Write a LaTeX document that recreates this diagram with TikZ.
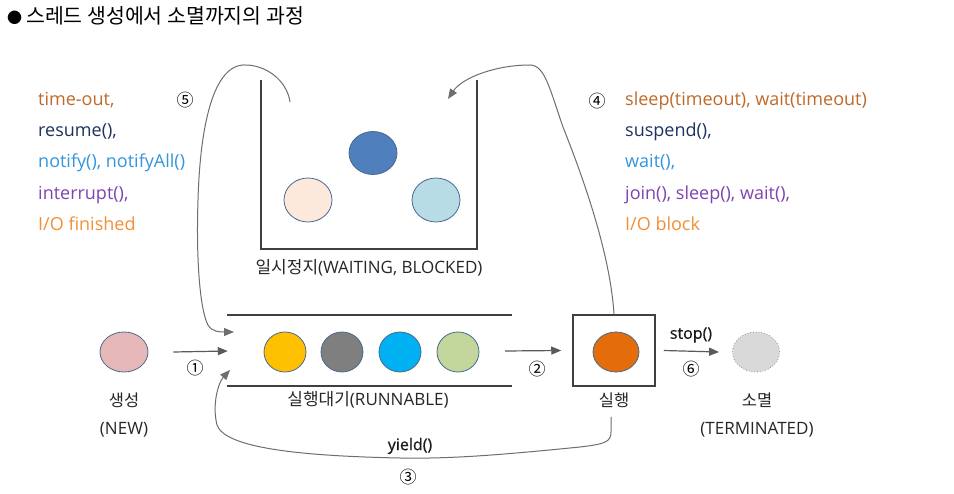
\documentclass[tikz,border=0pt]{standalone}
\usepackage{fontspec}
\setmainfont{Open Sans}
\newfontfamily\kr{Noto Sans CJK KR}
\newfontfamily\semib[FakeBold=0.6]{Open Sans}
\usetikzlibrary{arrows.meta,shapes.geometric}
\definecolor{cBrown}{HTML}{BF6A2A}
\definecolor{cNavy}{HTML}{1F3260}
\definecolor{cBlue}{HTML}{3396DC}
\definecolor{cPurple}{HTML}{8044AE}
\definecolor{cOrange}{HTML}{F28F38}
\definecolor{lineGray}{HTML}{404040}
\definecolor{arrGray}{HTML}{5A5A5A}
\definecolor{curveGray}{HTML}{6E6E6E}
\definecolor{ballEdge}{HTML}{4A6890}
\definecolor{darkBlue}{HTML}{4F7FBC}
\definecolor{peach}{HTML}{FCE9DC}
\definecolor{lblue}{HTML}{B7DCE6}
\definecolor{qYellow}{HTML}{FFC000}
\definecolor{qGray}{HTML}{7F7F7F}
\definecolor{qBlue}{HTML}{00B0F0}
\definecolor{qGreen}{HTML}{C3D69B}
\definecolor{newPink}{HTML}{E6B9B8}
\definecolor{runOrange}{HTML}{E46C0A}
\definecolor{termGray}{HTML}{D9D9D9}
\tikzset{
  lbl/.style={inner sep=0pt, font=\fontsize{17}{20}\selectfont, text=black!85},
  krlbl/.style={inner sep=0pt, font=\kr\fontsize{16.5}{18}\selectfont, text=black!85},
  num/.style={inner sep=0pt, font=\kr\fontsize{17}{18}\selectfont, text=black},
  codeline/.style={inner sep=0pt, anchor=base west, font=\fontsize{18}{20}\selectfont},
  ball/.style={ellipse, draw=ballEdge, line width=0.8pt, inner sep=0pt},
  arr/.style={draw=arrGray, line width=1.2pt, -{Triangle[length=10pt,width=8pt]}},
  curv/.style={draw=curveGray, line width=1pt, -{Triangle[length=10pt,width=8pt]}},
  wall/.style={draw=lineGray, line width=1.5pt},
  methlbl/.style={inner sep=0pt, font=\semib\fontsize{16}{18}\selectfont, text=black!90},
}
\begin{document}
\begin{tikzpicture}[x=1pt,y=-1pt]
\useasboundingbox[fill=white] (0,0) rectangle (954,494);

% title
\node[inner sep=0pt, anchor=base west, font=\kr\fontsize{20.5}{22}\selectfont] (title) at (7,24) {{\fontsize{15}{16}\selectfont ●}\hspace{4pt}스레드 생성에서 소멸까지의 과정};

% left text block
\node[codeline, text=cBrown]  (l1) at (38,106) {time-out,};
\node[codeline, text=cNavy]   (l2) at (38,137) {resume(),};
\node[codeline, text=cBlue]   (l3) at (38,168) {notify(), notifyAll()};
\node[codeline, text=cPurple] (l4) at (38,200) {interrupt(),};
\node[codeline, text=cOrange] (l5) at (38,231) {I/O finished};
\node[num] (n5) at (185,100) {⑤};

% right text block
\node[num] (n4) at (597,101) {④};
\node[codeline, text=cBrown]  (r1) at (625,106) {sleep(timeout), wait(timeout)};
\node[codeline, text=cNavy]   (r2) at (625,137) {suspend(),};
\node[codeline, text=cBlue]   (r3) at (625,168) {wait(),};
\node[codeline, text=cPurple] (r4) at (625,200) {join(), sleep(), wait(),};
\node[codeline, text=cOrange] (r5) at (625,231) {I/O block};

% waiting box
\node[minimum width=216pt, minimum height=169pt, inner sep=0pt] (wait) at (369,164.5) {};
\draw[wall] (wait.north west) -- (wait.south west) -- (wait.south east) -- (wait.north east);
\node[ball, fill=darkBlue, minimum width=48pt, minimum height=43pt] (w1) at (373,153) {};
\node[ball, fill=peach, minimum width=48pt, minimum height=44pt] (w2) at (308,200) {};
\node[ball, fill=lblue, minimum width=48pt, minimum height=44pt] (w3) at (436,200) {};
\node[lbl] (waitlbl) at (369,268) {{\kr 일시정지}(WAITING, BLOCKED)};

% runnable queue
\node[minimum width=285pt, minimum height=71pt, inner sep=0pt] (runq) at (369.5,350.5) {};
\draw[wall] (runq.north west) -- (runq.north east);
\draw[wall] (runq.south west) -- (runq.south east);
\node[ball, fill=qYellow, minimum width=42pt, minimum height=40pt] (q1) at (285,352) {};
\node[ball, fill=qGray, minimum width=42pt, minimum height=40pt] (q2) at (342,352) {};
\node[ball, fill=qBlue, minimum width=42pt, minimum height=40pt] (q3) at (400,352) {};
\node[ball, fill=qGreen, minimum width=42pt, minimum height=40pt] (q4) at (458,352) {};
\node[lbl] (runqlbl) at (368,400) {{\kr 실행대기}(RUNNABLE)};

% new
\node[ball, fill=newPink, minimum width=48pt, minimum height=40pt] (new) at (124,352) {};
\node[krlbl] (newlbl) at (124,400) {생성};
\node[lbl] (newlbl2) at (124,430) {(NEW)};

% running
\node[wall, draw, minimum width=82pt, minimum height=71pt, inner sep=0pt] (run) at (614,350.5) {};
\node[ball, fill=runOrange, minimum width=46pt, minimum height=40pt] (runball) at (616,352) {};
\node[krlbl] (runlbl) at (614,400) {실행};

% terminated
\node[ellipse, draw=ballEdge!70, dotted, line width=0.8pt, fill=termGray, minimum width=47pt, minimum height=40pt, inner sep=0pt] (term) at (756,352) {};
\node[krlbl] (termlbl) at (757,400) {소멸};
\node[lbl] (termlbl2) at (757,430) {(TERMINATED)};

% straight arrows
\draw[arr] ([xshift=25pt]new.east) -- ([xshift=1pt,yshift=-0.5pt]runq.west);
\node[num] (n1) at (195,368) {①};
\draw[arr] ([xshift=-7pt,yshift=-0.5pt]runq.east) -- ([xshift=-11pt]run.west);
\node[num] (n2) at (537,369) {②};
\draw[arr] ([xshift=8pt]run.east) -- ([xshift=-13pt]term.west);
\node[methlbl] (stoplbl) at (691,335) {stop()};
\node[num] (n6) at (691,369) {⑥};

% curves
\coordinate (c3s) at (611,417);
\coordinate (c3e) at (230,370);
\draw[curv] (c3s) -- (611,432) .. controls (611,442) and (605,444) .. (580,447) .. controls (500,455) and (450,459) .. (400,458) .. controls (300,456) and (225,448) .. (217,425) .. controls (212,405) and (218,383) .. (c3e);
\node[methlbl] (yieldlbl) at (410,446) {yield()};
\node[num] (n3) at (408,477) {③};

\coordinate (c4e) at (448,99);
\draw[curv] (run.north) .. controls (610,250) and (580,170) .. (563,127) .. controls (550,90) and (545,65) .. (530,65) .. controls (495,65) and (462,78) .. (c4e);

\coordinate (c5s) at (290,102);
\coordinate (c5e) at (234,332);
\draw[curv] (c5s) .. controls (287,80) and (265,64) .. (243,65) .. controls (212,67) and (200,130) .. (198,200) .. controls (196,260) and (200,310) .. (208,325) .. controls (212,332) and (220,332) .. (c5e);
\end{tikzpicture}
\end{document}
